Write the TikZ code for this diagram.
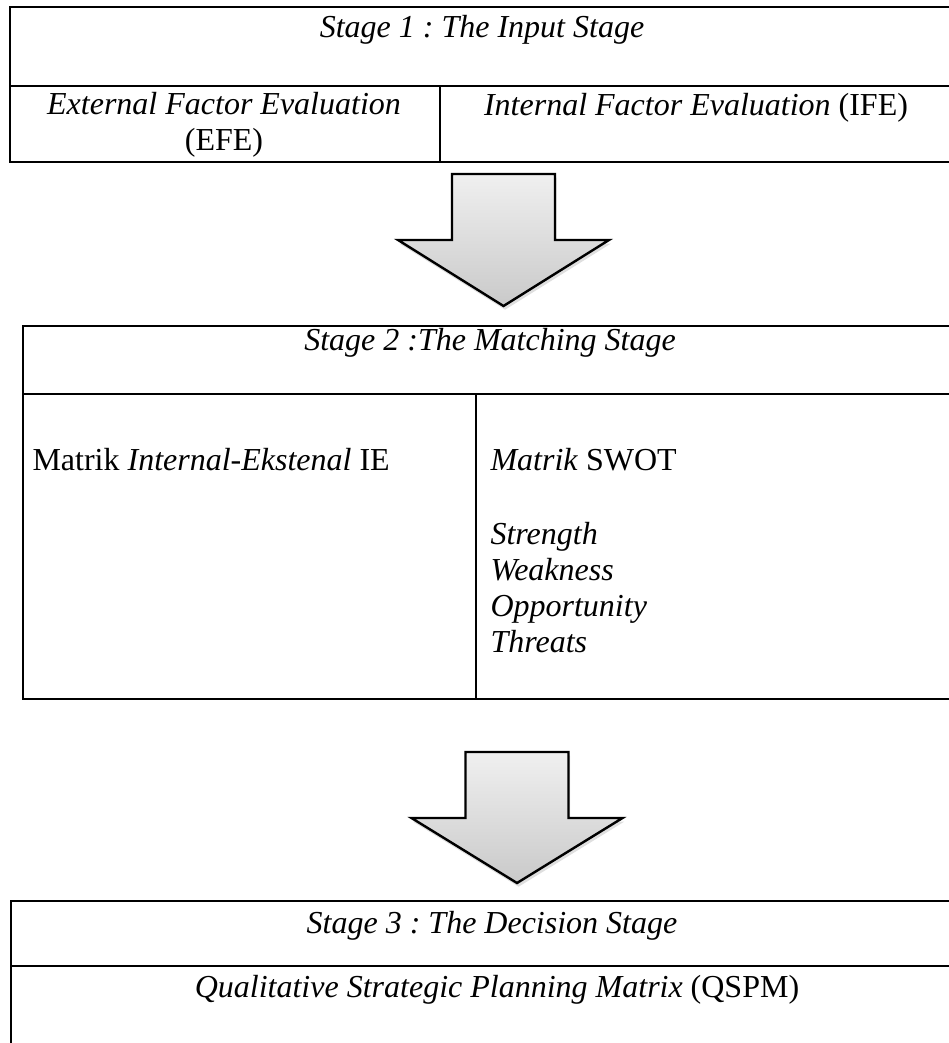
\documentclass[tikz,border=0pt]{standalone}
\usepackage{fontspec}
\setmainfont{Liberation Serif}
\frenchspacing
\usetikzlibrary{shadows}
\tikzstyle{frame} = [line width=0.9pt, line cap=rect]
\tikzstyle{txt} = [inner sep=0pt, font=\fontsize{12}{13.5}\selectfont]
\tikzstyle{title} = [txt, anchor=base]
\tikzstyle{item} = [txt, anchor=base west]
\tikzstyle{bigarrow} = [draw=black, line width=0.9pt, line join=miter, top color=gray!12, bottom color=gray!42,
    drop shadow={opacity=0.25, shadow xshift=0.6pt, shadow yshift=-1.4pt}]

\begin{document}
\begin{tikzpicture}[x=0.375pt, y=-0.375pt]
    \useasboundingbox (0,0) rectangle (948,1043);

    % Stage 1.
    \draw [frame] (10,7) rectangle (953,162);
    \draw [frame] (10,86) -- (953,86);
    \draw [frame] (440,86) -- (440,162);
    \node (stage1) [title] at (482,38) {\textit{Stage 1 : The Input Stage}};
    \node (efe) [title, align=center] at (224,151) {\textit{External Factor Evaluation}\\(EFE)};
    \node (ife) [title] at (696,116) {\textit{Internal Factor Evaluation} (IFE)};

    % Stage 2.
    \draw [frame] (23,326) rectangle (970,699);
    \draw [frame] (23,394) -- (970,394);
    \draw [frame] (476,394) -- (476,699);
    \node (stage2) [title] at (490,351) {\textit{Stage 2 :The Matching Stage}};
    \node (matrikie) [item] at (32,470) {Matrik \textit{Internal-Ekstenal} IE};
    \node (matrikswot) [item] at (490,470) {\textit{Matrik} SWOT};
    \foreach \n/\t [count=\i] in {strength/Strength, weakness/Weakness, opportunity/Opportunity, threats/Threats} {
        \node (\n) [item] at (490,508+36*\i) {\textit{\t}};
    }

    % Stage 3.
    \draw [frame] (11,901) rectangle (980,1070);
    \draw [frame] (11,966) -- (980,966);
    \node (stage3) [title] at (492,933) {\textit{Stage 3 : The Decision Stage}};
    \node (qspm) [title] at (497,997) {\textit{Qualitative Strategic Planning Matrix} (QSPM)};

    % Arrows.
    \foreach \c/\t/\s/\e in {503.5/174/240/306, 517/752/818/883} {
        \draw [bigarrow] (\c-51.5,\t) -- (\c+51.5,\t) -- (\c+51.5,\s) -- (\c+105.5,\s)
            -- (\c,\e) -- (\c-105.5,\s) -- (\c-51.5,\s) -- cycle;
    }
\end{tikzpicture}
\end{document}
